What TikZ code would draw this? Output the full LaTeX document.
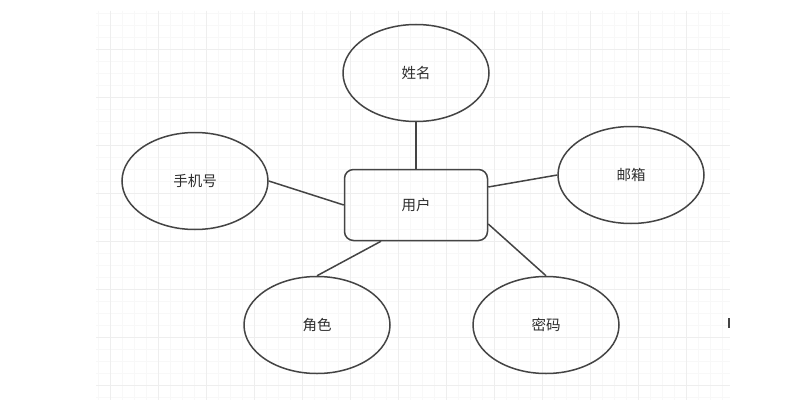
\documentclass[tikz,border=0pt]{standalone}
\usepackage{fontspec}
\newfontfamily\cjk{Noto Sans CJK SC}
\usetikzlibrary{shapes.geometric}
\definecolor{edgec}{HTML}{444444}
\definecolor{textc}{HTML}{2E2E2E}
\definecolor{majorg}{HTML}{EEEEEE}
\definecolor{minorg}{HTML}{F8F8F8}
\tikzset{
  attr/.style={ellipse, draw=edgec, line width=1.5pt, minimum width=146pt, minimum height=97pt, inner sep=0pt, font=\cjk\fontsize{14.5pt}{16pt}\selectfont, text=textc},
  entity/.style={rectangle, rounded corners=9pt, draw=edgec, line width=1.5pt, minimum width=143pt, minimum height=71pt, inner sep=0pt, font=\cjk\fontsize{14.5pt}{16pt}\selectfont, text=textc},
  link/.style={draw=edgec, line width=1.5pt}
}
\begin{document}
\begin{tikzpicture}[x=1pt,y=-1pt]
\useasboundingbox[fill=white] (0,0) rectangle (808,412);
% minor grid
\foreach \gx in {98,110,...,730} \draw[minorg, line width=0.6pt] (\gx,11) -- (\gx,400);
\foreach \gy in {13,25,...,400} \draw[minorg, line width=0.6pt] (96,\gy) -- (730,\gy);
% major grid
\foreach \gx in {110,158,...,730} \draw[majorg, line width=0.9pt] (\gx,11) -- (\gx,400);
\foreach \gy in {49,97,...,400} \draw[majorg, line width=0.9pt] (96,\gy) -- (730,\gy);
% nodes
\node[entity] (yh) at (416,205) {用户};
\node[attr] (xm) at (416,73) {姓名};
\node[attr] (sj) at (195,181) {手机号};
\node[attr] (yx) at (631,175) {邮箱};
\node[attr] (js) at (317,325) {角色};
\node[attr] (mm) at (546,325) {密码};
% connectors
\draw[link] (xm.south) -- (yh.north);
\draw[link] (sj.east) -- (yh.west);
\draw[link] ([yshift=18pt]yh.east) -- (yx.west);
\draw[link] ([xshift=-35pt]yh.south) -- (js.north);
\draw[link] ([yshift=-19pt]yh.east) -- (mm.north);
% small mark at right
\coordinate (mk1) at (729,318);
\coordinate (mk2) at (729,328);
\draw[edgec, line width=1.8pt] (mk1) -- (mk2);
\end{tikzpicture}
\end{document}
